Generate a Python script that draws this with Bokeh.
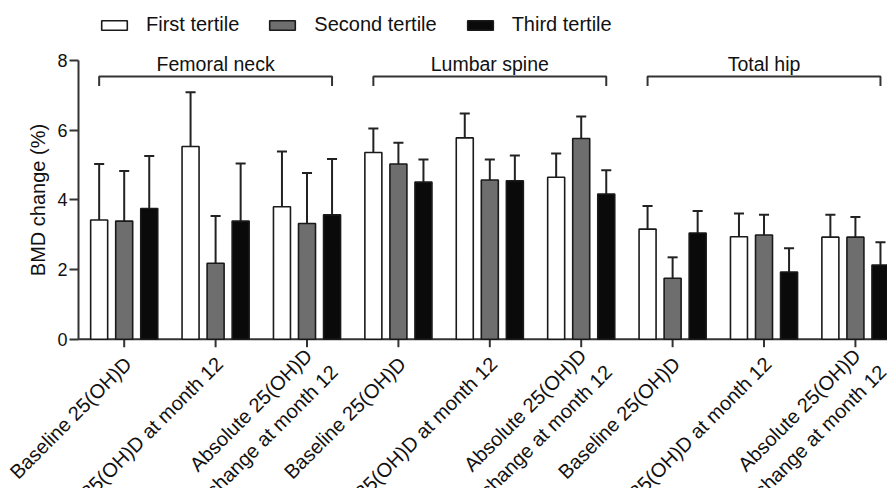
import math
from bokeh.plotting import figure
from bokeh.models import FixedTicker, Legend, LegendItem, Range1d
from bokeh.core.properties import value
from bokeh.embed import file_html
from bokeh.resources import INLINE

# ---- data ----
sites = ["Femoral neck", "Lumbar spine", "Total hip"]
tick_labels = ["Baseline 25(OH)D", "25(OH)D at month 12", "Absolute 25(OH)D\nchange at month 12"] * 3
series_names = ["First tertile", "Second tertile", "Third tertile"]
first = [3.42, 5.53, 3.80, 5.36, 5.78, 4.65, 3.16, 2.94, 2.93]
second = [3.39, 2.18, 3.32, 5.03, 4.57, 5.76, 1.75, 2.99, 2.93]
third = [3.75, 3.39, 3.57, 4.51, 4.55, 4.17, 3.05, 1.93, 2.13]
first_err = [1.61, 1.56, 1.59, 0.69, 0.70, 0.68, 0.66, 0.67, 0.64]
second_err = [1.44, 1.36, 1.45, 0.61, 0.59, 0.63, 0.60, 0.58, 0.58]
third_err = [1.51, 1.65, 1.60, 0.65, 0.72, 0.68, 0.63, 0.68, 0.65]
y_ticks = [0, 2, 4, 6, 8]

# ---- styling / layout ----
FONT = "Liberation Sans"
TXT = "#111111"
AX = "#333333"
fills = ["#ffffff", "#6e6e6e", "#0a0a0a"]
offsets = [-0.274, 0.0, 0.274]
bar_w = 0.186
cap = 0.055

W, H = 887, 488
LEFT = 78                            # pixel column of the y axis
Y0_PX, Y8_PX = 338.7, 60.0           # pixel rows of y=0 and y=8
PPU = (Y0_PX - Y8_PX) / 8.0          # pixels per y unit
X_END = 8.351
PPX = (W - LEFT) / (X_END + 0.5)     # pixels per category
x_start = -0.5 - LEFT / PPX
y_start = -(H - Y0_PX) / PPU
y_end = Y0_PX / PPU

p = figure(width=W, height=H, output_backend="svg", toolbar_location=None,
           x_range=Range1d(x_start, X_END), y_range=Range1d(y_start, y_end),
           min_border_left=0, min_border_right=0, min_border_top=0, min_border_bottom=0)
p.outline_line_color = None
p.xgrid.visible = False
p.ygrid.visible = False
p.xaxis.visible = False

xs = list(range(len(tick_labels)))

# x axis line and ticks at y = 0
p.segment(x0=[-0.5], y0=[0], x1=[X_END], y1=[0], line_color=AX, line_width=2)
tick_len = 8 / PPU
p.segment(x0=xs, y0=[0] * len(xs), x1=xs, y1=[-tick_len] * len(xs), line_color=AX, line_width=2)

items = []
for vals, errs, fill, off, name in zip([first, second, third], [first_err, second_err, third_err],
                                        fills, offsets, series_names):
    bx = [x + off for x in xs]
    tops = [v + e for v, e in zip(vals, errs)]
    p.segment(x0=bx, y0=vals, x1=bx, y1=tops, line_color="#222222", line_width=2)
    p.segment(x0=[x - cap for x in bx], y0=tops, x1=[x + cap for x in bx], y1=tops,
              line_color="#222222", line_width=2)
    r = p.vbar(x=bx, top=vals, width=bar_w, bottom=0, fill_color=fill,
               line_color="#1a1a1a", line_width=1.6)
    items.append(LegendItem(label=name, renderers=[r]))

# brackets for the sites
br_y, br_tick, br_text = 7.54, 7.27, 7.90
for g, site in enumerate(sites):
    x0 = 3 * g + offsets[0]
    x1 = 3 * g + 2 + offsets[2]
    p.line(x=[x0, x0, x1, x1], y=[br_tick, br_y, br_y, br_tick], line_color=AX, line_width=2)
    p.text(x=[3 * g + 1], y=[br_text], text=[site], text_align="center", text_baseline="middle",
           text_font=value(FONT), text_font_size="19.5px", text_color=TXT)

# rotated category labels under the axis
n_lines = [lab.count("\n") + 1 for lab in tick_labels]
drop_px = [13.5 if n == 1 else 0.5 for n in n_lines]
shift_px = [-4.0 if n == 1 else -1.5 for n in n_lines]
p.text(x=xs, y=[-d / PPU for d in drop_px], text=tick_labels, angle=math.pi / 4,
       x_offset=shift_px, anchor="top_right", text_align="center", text_line_height=1.35,
       text_font=value(FONT), text_font_size="20px", text_color=TXT)

legend = Legend(items=items, orientation="horizontal", location=(LEFT + 20, H - 14 - 22),
                glyph_width=32, glyph_height=12, label_standoff=16, spacing=27,
                padding=0, margin=0, border_line_color=None, background_fill_alpha=0,
                label_text_font=FONT, label_text_font_size="20px", label_text_color=TXT)
p.add_layout(legend)

ya = p.yaxis[0]
ya.fixed_location = -0.5
ya.ticker = FixedTicker(ticks=y_ticks)
ya.bounds = (0, 8)
ya.axis_label = "BMD change (%)"
ya.axis_label_text_font = FONT
ya.axis_label_text_font_size = "20px"
ya.axis_label_text_font_style = "normal"
ya.axis_label_text_color = TXT
ya.axis_label_standoff = 5
ya.major_label_text_font = FONT
ya.major_label_text_font_size = "18px"
ya.major_label_text_color = TXT
ya.axis_line_width = 2
ya.axis_line_color = AX
ya.major_tick_line_width = 2
ya.major_tick_line_color = AX
ya.major_tick_out = 9
ya.major_tick_in = 0
ya.minor_tick_line_color = None
ya.major_label_standoff = 2

open("out.html", "w").write(file_html(p, INLINE))
